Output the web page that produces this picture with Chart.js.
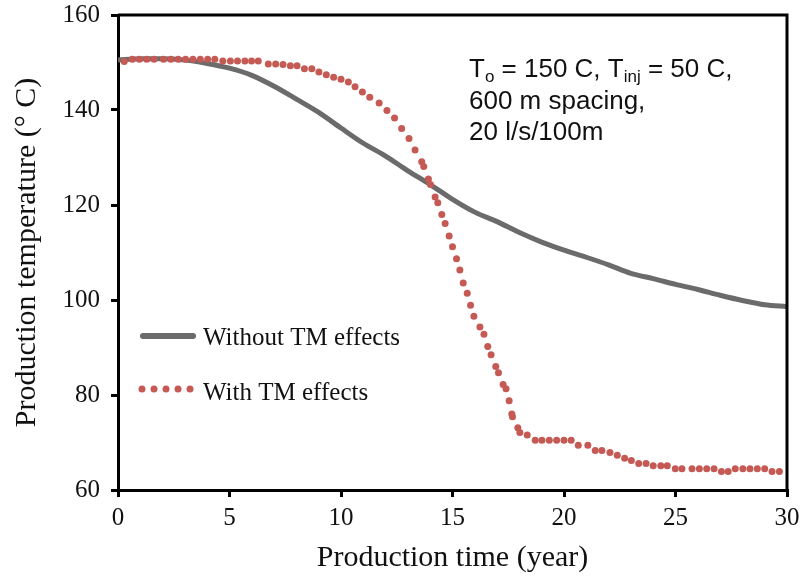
<!DOCTYPE html>
<html>
<head>
<meta charset="utf-8">
<script src="https://cdn.jsdelivr.net/npm/chart.js@4.4.0/dist/chart.umd.min.js"></script>
<style>
  html, body { margin: 0; padding: 0; background: #fff; }
  #wrap { width: 801px; height: 579px; }
</style>
</head>
<body>
<div id="wrap"><canvas id="c" width="801" height="579"></canvas></div>
<script>
// ---- Data ----
const xTicks = [0, 5, 10, 15, 20, 25, 30];
const yTicks = [60, 80, 100, 120, 140, 160];

const grayYears = [0,1,2,3,4,5,6,7,8,9,10,11,12,13,14,15,16,17,18,19,20,21,22,23,24,25,26,27,28,29,30];
const grayTemps = [150.5,150.8,150.8,150.5,149.8,148.8,147.3,145.0,142.3,139.5,136.2,133.0,130.3,127.2,124.3,121.2,118.5,116.5,114.2,112.2,110.5,109.0,107.4,105.6,104.5,103.3,102.2,101.0,99.9,99.0,98.6];

const redYears = [0.28,0.64,0.96,1.29,1.62,2.04,2.37,2.70,3.03,3.36,3.69,4.02,4.34,4.70,5.04,5.36,5.69,5.99,6.29,6.74,7.07,7.40,7.73,8.03,8.36,8.69,9.01,9.34,9.67,10.0,10.33,10.63,10.96,11.29,11.71,12.06,12.40,12.72,13.05,13.32,13.62,13.71,13.92,14.01,14.22,14.34,14.52,14.67,14.85,15.0,15.18,15.33,15.48,15.66,15.81,15.96,16.23,16.41,16.58,16.73,16.94,17.06,17.27,17.40,17.54,17.66,17.69,17.93,18.02,18.35,18.71,19.01,19.34,19.67,20.0,20.32,20.64,21.07,21.40,21.70,22.06,22.39,22.72,23.02,23.35,23.68,24.0,24.34,24.63,24.99,25.29,25.74,26.07,26.40,26.73,27.06,27.36,27.68,28.02,28.34,28.67,29.0,29.33,29.66];
const redTemps = [150.2,150.7,150.7,150.7,150.7,150.7,150.7,150.7,150.7,150.7,150.7,150.7,150.7,150.3,150.3,150.3,150.3,150.3,150.3,149.7,149.7,149.6,149.3,149.3,148.7,148.7,148.0,147.4,146.9,146.5,145.9,144.9,143.8,142.7,141.5,139.9,138.3,136.1,134.0,131.6,129.1,128.1,125.5,124.3,121.7,120.5,118.0,116.1,113.5,111.2,108.7,106.3,103.6,101.4,98.9,96.6,94.3,92.8,90.2,88.5,86.0,84.7,82.2,81.3,78.8,76.0,75.4,73.1,72.1,71.6,70.5,70.5,70.5,70.5,70.5,70.5,69.4,69.4,68.3,68.3,67.9,67.3,66.7,66.2,65.6,65.6,65.1,65.1,65.1,64.5,64.5,64.5,64.5,64.5,64.5,63.9,63.9,64.5,64.5,64.5,64.5,64.5,63.9,63.9];

const seriesNames = ['Without TM effects', 'With TM effects'];
const xTitle = 'Production time (year)';
const yTitle = 'Production temperature (° C)';
const noteLines = [
  [['T', false], ['o', true], [' = 150 C, T', false], ['inj', true], [' = 50 C,', false]],
  [['600 m spacing,', false]],
  [['20 l/s/100m', false]]
];

const GRAY = '#6b6b6b';
const RED = '#c55a55';
const SERIF = '"Liberation Serif", "Times New Roman", serif';
const SANS = '"Liberation Sans", Arial, sans-serif';

const grayData = grayYears.map((x, i) => ({ x, y: grayTemps[i] }));
const redData = redYears.map((x, i) => ({ x, y: redTemps[i] }));

const decor = {
  id: 'decor',
  afterDraw(chart) {
    const { ctx, chartArea: a } = chart;
    ctx.save();
    // top and right frame
    ctx.strokeStyle = '#000';
    ctx.lineWidth = 3;
    ctx.beginPath();
    ctx.moveTo(a.left, a.top);
    ctx.lineTo(a.right, a.top);
    ctx.lineTo(a.right, a.bottom + 1.5);
    ctx.stroke();

    // legend
    ctx.lineCap = 'round';
    ctx.strokeStyle = GRAY;
    ctx.lineWidth = 6;
    ctx.beginPath();
    ctx.moveTo(143, 336);
    ctx.lineTo(193, 336);
    ctx.stroke();
    ctx.fillStyle = RED;
    for (let i = 0; i < 5; i++) {
      ctx.beginPath();
      ctx.arc(142 + i * 12, 389, 3.5, 0, Math.PI * 2);
      ctx.fill();
    }
    ctx.fillStyle = '#111';
    ctx.font = '25px ' + SERIF;
    ctx.textBaseline = 'alphabetic';
    ctx.textAlign = 'left';
    ctx.fillText(seriesNames[0], 203, 345);
    ctx.fillText(seriesNames[1], 203, 400);

    // annotation
    const baselines = [77, 108.5, 140];
    noteLines.forEach((segs, li) => {
      let x = 469;
      segs.forEach(([t, sub]) => {
        ctx.font = (sub ? '17px ' : '26px ') + SANS;
        ctx.fillText(t, x, baselines[li] + (sub ? 5 : 0));
        x += ctx.measureText(t).width;
      });
    });
    ctx.restore();
  }
};

new Chart(document.getElementById('c'), {
  type: 'scatter',
  data: {
    datasets: [
      {
        label: seriesNames[0],
        data: grayData,
        showLine: true,
        borderColor: GRAY,
        borderWidth: 5,
        pointRadius: 0,
        cubicInterpolationMode: 'monotone',
        order: 2
      },
      {
        label: seriesNames[1],
        data: redData,
        showLine: false,
        backgroundColor: RED,
        borderWidth: 0,
        pointRadius: 3.5,
        pointHoverRadius: 3.5,
        order: 1
      }
    ]
  },
  options: {
    responsive: false,
    animation: false,
    events: [],
    layout: { padding: { top: 15, right: 14, left: 0, bottom: 0 } },
    plugins: { legend: { display: false }, tooltip: { enabled: false } },
    scales: {
      x: {
        type: 'linear',
        min: 0, max: 30,
        afterBuildTicks(s) { s.ticks = xTicks.map(v => ({ value: v })); },
        afterFit(s) { s.height = 89; s.paddingLeft = 0; s.paddingRight = 0; },
        border: { display: true, color: '#000', width: 3 },
        grid: { display: true, drawOnChartArea: false, drawTicks: true, tickLength: 7, tickWidth: 3, tickColor: '#000', color: '#000', lineWidth: 3 },
        ticks: { color: '#111', font: { family: SERIF, size: 25 }, padding: 6, maxRotation: 0 },
        title: { display: true, text: xTitle, color: '#111', font: { family: SERIF, size: 30 }, padding: { top: 0, bottom: 3 } }
      },
      y: {
        type: 'linear',
        min: 60, max: 160,
        afterBuildTicks(s) { s.ticks = yTicks.map(v => ({ value: v })); },
        afterFit(s) { s.width = 118; s.paddingTop = 0; s.paddingBottom = 0; },
        border: { display: true, color: '#000', width: 3 },
        grid: { display: true, drawOnChartArea: false, drawTicks: true, tickLength: 7, tickWidth: 3, tickColor: '#000', color: '#000', lineWidth: 3 },
        ticks: { color: '#111', font: { family: SERIF, size: 25 }, padding: 11 },
        title: { display: true, text: yTitle, color: '#111', font: { family: SERIF, size: 30 }, padding: { top: 9, bottom: 0 } }
      }
    }
  },
  plugins: [decor]
});
</script>
</body>
</html>
